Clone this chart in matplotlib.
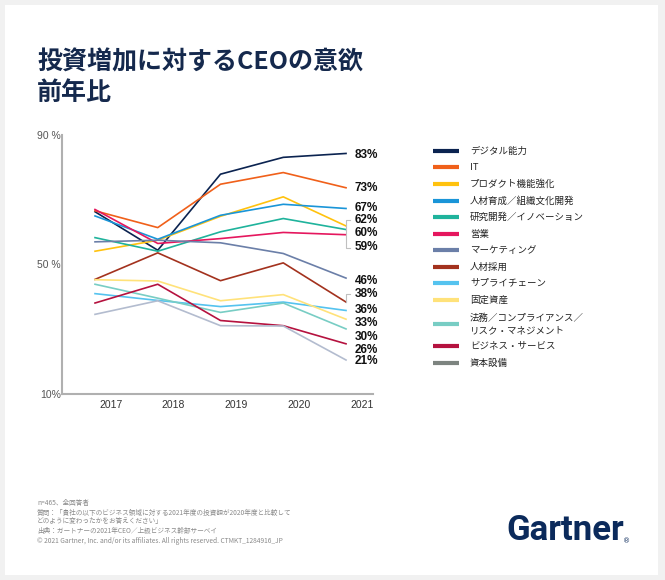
import matplotlib
matplotlib.use("Agg")
import matplotlib.pyplot as plt
from matplotlib.patches import Rectangle

plt.rcParams['font.family'] = ['Noto Sans CJK JP', 'DejaVu Sans']

# ---- data ----
years = ['2017', '2018', '2019', '2020', '2021']

digital = [66.3, 54.4, 77.9, 83.1, 84.3]
it = [66.6, 61.4, 74.8, 78.4, 73.7]
product = [54.1, 57.5, 64.9, 70.9, 61.9]
hr_dev = [65.0, 57.8, 65.2, 68.6, 67.3]
rnd = [58.3, 54.1, 60.1, 64.2, 60.8]
sales = [67.0, 56.5, 58.0, 59.9, 59.2]
marketing = [57.0, 57.5, 56.7, 53.4, 45.8]
talent = [45.4, 53.6, 45.0, 50.5, 38.4]
supply = [41.0, 38.9, 37.0, 38.4, 35.8]
fixed_assets = [45.3, 44.9, 38.8, 40.7, 33.1]
legal = [43.9, 39.6, 35.2, 38.1, 30.1]
biz_services = [38.1, 43.9, 32.7, 31.1, 25.5]
capital = [34.6, 38.8, 31.1, 31.0, 20.5]

names = ['デジタル能力', 'IT', 'プロダクト機能強化', '人材育成／組織文化開発',
         '研究開発／イノベーション', '営業', 'マーケティング', '人材採用',
         'サプライチェーン', '固定資産', '法務／コンプライアンス／\nリスク・マネジメント',
         'ビジネス・サービス', '資本設備']
series = [digital, it, product, hr_dev, rnd, sales, marketing, talent,
          supply, fixed_assets, legal, biz_services, capital]
line_colors = ['#0b2350', '#f0601a', '#ffc20e', '#1a95d8', '#1fb39c', '#e5175e',
               '#6b7fa8', '#a3321e', '#55c3ef', '#ffe27a', '#78cdc4', '#b5123f',
               '#b3bccf']
legend_colors = line_colors[:-1] + ['#7d8480']

end_labels = ['83%', '73%', '67%', '62%', '60%', '59%', '46%', '38%',
              '36%', '33%', '30%', '26%', '21%']
label_y = [83.8, 73.6, 67.5, 63.7, 59.7, 55.4, 44.9, 40.9, 35.9, 31.9, 27.6, 23.6, 20.2]

navy = '#15294d'

fig = plt.figure(figsize=(6.65, 5.8), dpi=100)
fig.patch.set_facecolor('#f1f1f1')

# background / text layer in pixel coordinates
bg = fig.add_axes([0, 0, 1, 1], zorder=0)
bg.set_xlim(0, 665)
bg.set_ylim(580, 0)
bg.axis('off')
bg.add_patch(Rectangle((5, 5), 653, 570, facecolor='white', edgecolor='none'))

bg.text(37, 62, '投資増加に対するCEOの意欲', fontsize=18, fontweight='bold',
        color=navy, va='center', ha='left')
bg.text(37, 93, '前年比', fontsize=18, fontweight='bold',
        color=navy, va='center', ha='left')

# legend
leg_y = [151, 167, 184, 201, 217, 234, 250, 267, 283, 300, 324, 346, 363]
for name, col, yy in zip(names, legend_colors, leg_y):
    bg.plot([433, 459], [yy, yy], color=col, lw=3, solid_capstyle='butt')
    bg.text(470, yy, name, fontsize=6.8, color='#222222', va='center', ha='left',
            linespacing=1.45)

# footnotes
notes = ['n=465、全回答者',
         '質問：「貴社の以下のビジネス領域に対する2021年度の投資額が2020年度と比較して',
         'どのように変わったかをお答えください」',
         '出典：ガートナーの2021年CEO／上級ビジネス幹部サーベイ',
         '© 2021 Gartner, Inc. and/or its affiliates. All rights reserved. CTMKT_1284916_JP']
note_y = [503, 513, 521, 531, 541]
for t, yy in zip(notes, note_y):
    bg.text(37, yy, t, fontsize=4.8, color='#8a8a8a', va='center', ha='left')

# logo
bg.text(506, 531, 'Gartner', fontsize=25, fontweight='bold', color='#0b2a5b',
        family='Roboto', va='center', ha='left')
bg.text(623, 541, '®', fontsize=5, color='#0b2a5b', family='DejaVu Sans',
        va='center', ha='left')

# chart
ax = fig.add_axes([62 / 665, 1 - 394 / 580, 311 / 665, 259 / 580], zorder=1)
ax.set_facecolor('none')
x = list(range(len(years)))
for vals, col in zip(series, line_colors):
    ax.plot(x, vals, color=col, lw=1.2)

ax.set_xlim(-0.526, 4.43)
ax.set_ylim(10, 90)
for s in ['top', 'right']:
    ax.spines[s].set_visible(False)
for s in ['left', 'bottom']:
    ax.spines[s].set_color('#b0b0b0')
    ax.spines[s].set_linewidth(1.5)

ax.set_xticks([i + 0.25 for i in x])
ax.set_xticklabels(years, family='Liberation Sans', fontsize=7.5, color='#333333')
ax.set_yticks([10, 50, 90])
ax.set_yticklabels(['10%', '50 %', '90 %'], family='Liberation Sans', fontsize=7.5,
                   color='#555555')
ax.tick_params(axis='x', length=0, pad=4)
ax.tick_params(axis='y', length=0, pad=1)

for lab, yy in zip(end_labels, label_y):
    ax.text(4.14, yy, lab, family='Liberation Sans', fontweight='bold', fontsize=8.5,
            color='#111111', va='center', ha='left')

# small brackets next to the close labels
br = '#c0c0c0'
ax.plot([4.06, 4.0, 4.0, 4.06], [63.6, 63.6, 55.2, 55.2], color=br, lw=0.8)
ax.plot([4.06, 4.0, 4.0], [40.8, 40.8, 38.4], color=br, lw=0.8)

fig.savefig('out.png', dpi=100)
